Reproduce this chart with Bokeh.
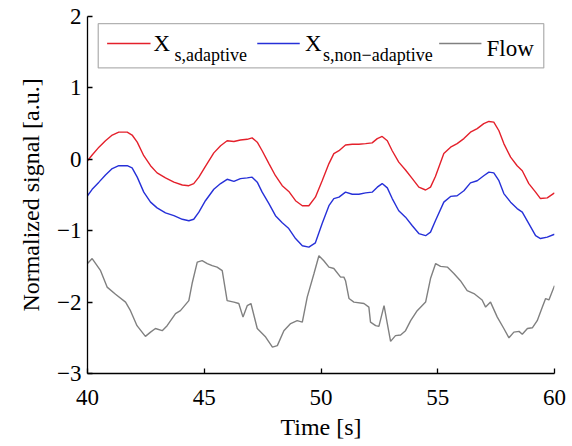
from bokeh.plotting import figure
from bokeh.models import Range1d, FixedTicker, Label, BoxAnnotation
from bokeh.embed import file_html
from bokeh.resources import INLINE

# ---- data ----
t_signal = [40.0, 40.2, 40.49, 40.77, 41.06, 41.34, 41.7, 41.91, 42.13, 42.41, 42.7, 42.98,
            43.34, 43.7, 44.06, 44.34, 44.55, 44.77, 45.05, 45.41, 45.7, 45.98, 46.27, 46.55,
            46.84, 47.05, 47.27, 47.48, 47.77, 48.05, 48.34, 48.62, 48.91, 49.2, 49.48, 49.76,
            50.05, 50.34, 50.55, 50.77, 51.05, 51.34, 51.62, 51.91, 52.19, 52.41, 52.62, 52.84,
            53.05, 53.33, 53.62, 53.91, 54.19, 54.48, 54.69, 54.9, 55.26, 55.55, 55.83, 56.12,
            56.4, 56.69, 56.97, 57.19, 57.4, 57.62, 57.83, 58.12, 58.4, 58.62, 58.9, 59.19,
            59.4, 59.69, 60.0]
x_adaptive = [-0.02, 0.06, 0.17, 0.26, 0.34, 0.38, 0.38, 0.34, 0.24, 0.05, -0.09, -0.19,
              -0.26, -0.32, -0.36, -0.37, -0.34, -0.25, -0.10, 0.09, 0.19, 0.26, 0.25, 0.27,
              0.28, 0.30, 0.24, 0.12, -0.06, -0.23, -0.37, -0.45, -0.58, -0.65, -0.65, -0.53,
              -0.30, -0.06, 0.08, 0.12, 0.20, 0.21, 0.21, 0.22, 0.23, 0.29, 0.32, 0.26,
              0.12, -0.04, -0.15, -0.27, -0.39, -0.43, -0.39, -0.24, 0.08, 0.17, 0.22, 0.29,
              0.38, 0.43, 0.50, 0.53, 0.52, 0.40, 0.22, 0.03, -0.09, -0.16, -0.34, -0.46,
              -0.55, -0.54, -0.47]
x_nonadaptive = [-0.51, -0.42, -0.32, -0.22, -0.13, -0.09, -0.09, -0.12, -0.25, -0.46, -0.60, -0.68,
                 -0.75, -0.79, -0.84, -0.86, -0.84, -0.74, -0.58, -0.42, -0.34, -0.28, -0.31, -0.27,
                 -0.26, -0.25, -0.32, -0.46, -0.62, -0.79, -0.89, -0.97, -1.11, -1.21, -1.23, -1.17,
                 -0.90, -0.65, -0.55, -0.53, -0.46, -0.49, -0.49, -0.47, -0.46, -0.39, -0.34, -0.40,
                 -0.55, -0.72, -0.81, -0.93, -1.04, -1.07, -1.02, -0.86, -0.60, -0.52, -0.51, -0.44,
                 -0.33, -0.30, -0.23, -0.18, -0.19, -0.30, -0.48, -0.60, -0.69, -0.74, -0.90, -1.07,
                 -1.11, -1.09, -1.05]

t_flow = [40.0, 40.2, 40.56, 40.84, 41.2, 41.63, 41.84, 42.12, 42.48, 42.7, 42.91, 43.2, 43.41,
          43.77, 43.98, 44.34, 44.48, 44.7, 44.91, 45.13, 45.34, 45.55, 45.77, 45.98, 46.27, 46.48,
          46.66, 46.84, 47.0, 47.27, 47.63, 47.92, 48.13, 48.41, 48.7, 48.98, 49.2, 49.41, 49.7,
          49.91, 50.12, 50.34, 50.55, 50.84, 50.98, 51.05, 51.2, 51.41, 51.84, 52.05, 52.12, 52.34,
          52.48, 52.7, 52.84, 52.98, 53.19, 53.41, 53.62, 53.84, 54.12, 54.48, 54.69, 54.91, 55.12,
          55.41, 55.69, 55.97, 56.26, 56.55, 56.9, 57.05, 57.26, 57.55, 57.83, 58.05, 58.26, 58.48,
          58.62, 58.84, 59.05, 59.26, 59.48, 59.62, 59.76, 60.0]
flow = [-1.46, -1.39, -1.56, -1.79, -1.89, -2.00, -2.12, -2.33, -2.48, -2.42, -2.37, -2.40, -2.33,
        -2.16, -2.12, -1.98, -1.74, -1.44, -1.42, -1.46, -1.49, -1.51, -1.56, -1.98, -2.00, -2.02,
        -2.21, -2.05, -2.02, -2.37, -2.49, -2.63, -2.61, -2.40, -2.30, -2.26, -2.28, -1.93, -1.60,
        -1.35, -1.42, -1.51, -1.53, -1.65, -1.65, -1.70, -1.95, -2.00, -2.02, -2.07, -2.28, -2.33,
        -2.34, -2.05, -2.30, -2.55, -2.47, -2.46, -2.40, -2.26, -2.12, -2.00, -1.67, -1.46, -1.50,
        -1.51, -1.60, -1.70, -1.84, -1.88, -1.97, -2.07, -2.00, -2.21, -2.37, -2.50, -2.42, -2.41,
        -2.45, -2.37, -2.36, -2.26, -2.07, -1.95, -1.97, -1.77]

x_ticks = [40, 45, 50, 55, 60]
y_ticks = [-3, -2, -1, 0, 1, 2]
y_tick_labels = {-3: "\u22123", -2: "\u22122", -1: "\u22121", 0: "0", 1: "1", 2: "2"}

RED = "#e4202b"
BLUE = "#2630d8"
GRAY = "#808080"
FONT = "Liberation Serif"

p = figure(width=570, height=444, x_range=Range1d(40, 60), y_range=Range1d(-3, 2),
           output_backend="svg", toolbar_location=None,
           min_border_left=87, min_border_right=16, min_border_top=16, min_border_bottom=71)
p.outline_line_color = None
p.xgrid.visible = False
p.ygrid.visible = False
p.background_fill_color = "white"

for ax in (p.xaxis[0], p.yaxis[0]):
    ax.major_tick_in = 5
    ax.major_tick_out = 0
    ax.minor_tick_in = 0
    ax.minor_tick_out = 0
    ax.axis_line_width = 1.3
    ax.major_tick_line_width = 1.3
    ax.axis_line_color = "black"
    ax.major_tick_line_color = "black"
    ax.major_label_text_font = FONT
    ax.major_label_text_font_size = "23px"
    ax.major_label_text_color = "black"
    ax.axis_label_text_font = FONT
    ax.axis_label_text_font_size = "24px"
    ax.axis_label_text_font_style = "normal"
    ax.axis_label_text_color = "black"

p.xaxis.ticker = FixedTicker(ticks=x_ticks)
p.yaxis.ticker = FixedTicker(ticks=y_ticks)
p.yaxis.major_label_overrides = y_tick_labels
p.xaxis.axis_label = "Time [s]"
p.yaxis.axis_label = "Normalized signal [a.u.]"
p.xaxis.major_label_standoff = 16
p.xaxis.axis_label_standoff = 6
p.yaxis.major_label_standoff = 6
p.yaxis.axis_label_standoff = 10

p.line(t_signal, x_adaptive, line_color=RED, line_width=1.4)
p.line(t_signal, x_nonadaptive, line_color=BLUE, line_width=1.4)
p.line(t_flow, flow, line_color=GRAY, line_width=1.4)

# ---- legend (drawn by hand for the subscripts) ----
leg_box = BoxAnnotation(left=40.46, right=59.54, bottom=1.28, top=1.90,
                        fill_color="white", fill_alpha=1.0, line_color="black",
                        line_width=1.3, level="underlay")
p.add_layout(leg_box)
leg_y = 1.622
p.line([40.84, 42.70], [leg_y, leg_y], line_color=RED, line_width=1.4)
p.line([47.27, 49.09], [leg_y, leg_y], line_color=BLUE, line_width=1.4)
p.line([55.06, 56.87], [leg_y, leg_y], line_color=GRAY, line_width=1.4)

def lab(x, y, text, size):
    p.add_layout(Label(x=x, y=y, text=text, text_font=FONT, text_font_size=size,
                       text_color="black", text_align="left", text_baseline="alphabetic"))

lab(42.83, 1.62, "X", "23px")
lab(43.73, 1.455, "s,adaptive", "18px")
lab(49.31, 1.62, "X", "23px")
lab(50.09, 1.455, "s,non\u2212adaptive", "18px")
lab(57.09, 1.55, "Flow", "23px")

open("out.html", "w").write(file_html(p, INLINE))
